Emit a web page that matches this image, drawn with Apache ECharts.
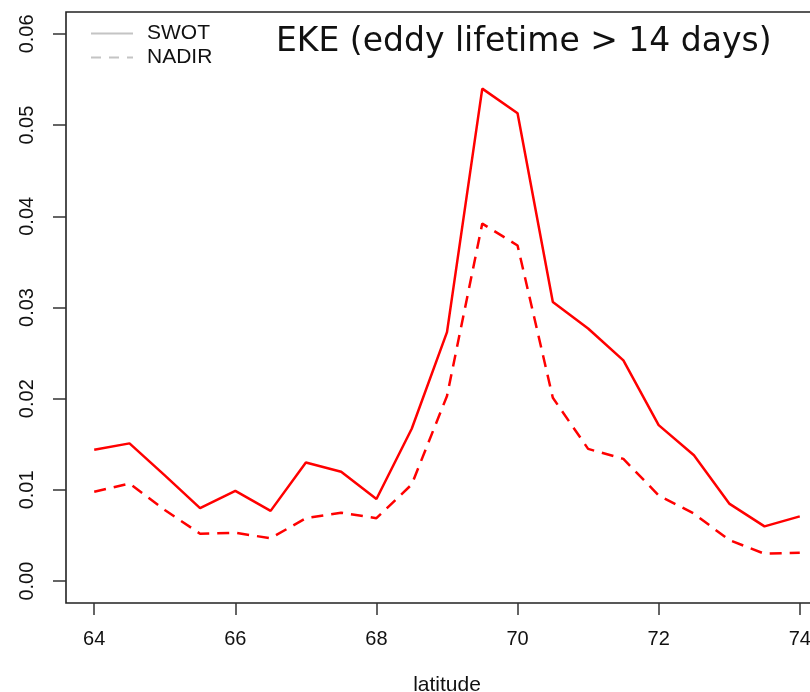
<!DOCTYPE html>
<html>
<head>
<meta charset="utf-8">
<script src="https://cdn.jsdelivr.net/npm/echarts@6/dist/echarts.min.js"></script>
<style>
html,body{margin:0;padding:0;background:#fff;}
#main{width:810px;height:692px;}
</style>
</head>
<body>
<div id="main"></div>
<script>
const latitude = [64, 64.5, 65, 65.5, 66, 66.5, 67, 67.5, 68, 68.5, 69, 69.5, 70, 70.5, 71, 71.5, 72, 72.5, 73, 73.5, 74];
const swot  = [0.0144, 0.0151, 0.0116, 0.0080, 0.0099, 0.0077, 0.0130, 0.0120, 0.0090, 0.0167, 0.0273, 0.0540, 0.0513, 0.0306, 0.0277, 0.0242, 0.0171, 0.0138, 0.0085, 0.0060, 0.0071];
const nadir = [0.0098, 0.0107, 0.0078, 0.0052, 0.0053, 0.0047, 0.0069, 0.0075, 0.0069, 0.0106, 0.0203, 0.0392, 0.0368, 0.0201, 0.0145, 0.0134, 0.0094, 0.0074, 0.0045, 0.0030, 0.0031];
const xTicks = [64, 66, 68, 70, 72, 74];
const yTicks = [0.00, 0.01, 0.02, 0.03, 0.04, 0.05, 0.06];
const seriesNames = ['SWOT', 'NADIR'];
const titleText = 'EKE (eddy lifetime > 14 days)';
const xLabel = 'latitude';

const pair = (vals) => latitude.map((x, i) => [x, vals[i]]);
const font = 'Liberation Sans, Arial, Helvetica, sans-serif';

const chart = echarts.init(document.getElementById('main'), null, {renderer: 'canvas'});
chart.setOption({
  backgroundColor: '#ffffff',
  animation: false,
  title: {
    text: titleText,
    left: 271, top: 21,
    textStyle: {fontFamily: 'DejaVu Sans', fontWeight: 'normal', fontSize: 33, color: '#111'}
  },
  legend: {
    orient: 'vertical',
    left: 85, top: 18,
    itemWidth: 42, itemHeight: 14, itemGap: 3,
    itemStyle: {color: 'transparent', borderColor: 'transparent', borderWidth: 0, opacity: 0},
    textStyle: {fontFamily: font, fontSize: 21, color: '#111', padding: [0, 0, 0, 9]},
    data: [
      {name: seriesNames[0], lineStyle: {color: '#c4c4c4', width: 2}},
      {name: seriesNames[1], lineStyle: {color: '#c4c4c4', width: 2, type: [10, 8]}}
    ]
  },
  grid: {
    left: 66, top: 12, width: 762, height: 591,
    outerBoundsMode: 'none', containLabel: false,
    show: true, borderColor: '#222', borderWidth: 1.6, backgroundColor: 'transparent'
  },
  xAxis: {
    type: 'value', min: 63.6, max: 74.4,
    axisLine: {show: false, onZero: false},
    splitLine: {show: false},
    axisTick: {show: true, length: 12, customValues: xTicks, lineStyle: {color: '#333', width: 1.5}},
    axisLabel: {customValues: xTicks, margin: 26, fontFamily: font, fontSize: 20, color: '#111'},
    name: xLabel, nameLocation: 'middle', nameGap: 72,
    nameTextStyle: {fontFamily: font, fontSize: 21, color: '#111'}
  },
  yAxis: {
    type: 'value', min: -0.0024, max: 0.0624,
    axisLine: {show: false, onZero: false},
    splitLine: {show: false},
    axisTick: {show: true, length: 13, customValues: yTicks, lineStyle: {color: '#333', width: 1.5}},
    axisLabel: {customValues: yTicks, rotate: 90, margin: 29, fontFamily: font, fontSize: 20, color: '#111',
      formatter: (v) => v.toFixed(2)}
  },
  series: [
    {name: seriesNames[0], type: 'line', data: pair(swot), symbol: 'none', showSymbol: false,
     lineStyle: {color: '#ff0000', width: 2.5, type: 'solid'}, itemStyle: {color: '#ff0000'}},
    {name: seriesNames[1], type: 'line', data: pair(nadir), symbol: 'none', showSymbol: false,
     lineStyle: {color: '#ff0000', width: 2.5, type: [12, 8]}, itemStyle: {color: '#ff0000'}}
  ]
});
</script>
</body>
</html>
